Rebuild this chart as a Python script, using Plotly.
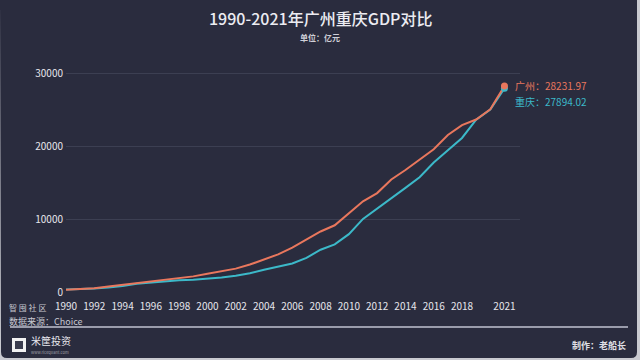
import plotly.graph_objects as go

years = list(range(1990, 2022))
guangzhou = [319.6, 386.7, 510.7, 744.3, 985.3, 1259.2, 1468.1, 1678.1, 1893.5, 2139.2,
             2492.7, 2841.7, 3203.9, 3758.6, 4450.6, 5154.2, 6081.9, 7140.3, 8287.4, 9138.2,
             10748.3, 12423.4, 13551.2, 15420.1, 16706.9, 18100.4, 19547.4, 21503.2, 22859.4,
             23628.6, 25019.1, 28231.97]
chongqing = [328, 380, 465, 609, 804, 1123, 1315, 1510, 1602, 1663,
             1791, 1977, 2233, 2556, 3035, 3468, 3907, 4676, 5794, 6530,
             7926, 10011, 11410, 12783, 14263, 15717, 17741, 19425, 21100,
             23606, 25003, 27894.02]
tick_years = [1990, 1992, 1994, 1996, 1998, 2000, 2002, 2004, 2006, 2008, 2010,
              2012, 2014, 2016, 2018, 2021]
y_ticks = [0, 10000, 20000, 30000]

ORANGE = "#e9775d"
TEAL = "#3cb9c9"
BG = "#2a2c3e"
FONT = "Noto Sans CJK SC"

W, H = 640, 360
L, R, T, B = 66, 120, 60, 68
PW, PH = W - L - R, H - T - B


def px(x):
    return (x - L) / PW


def py(y):
    return (H - B - y) / PH


fig = go.Figure()
fig.add_trace(go.Scatter(x=years, y=chongqing, mode="lines", line=dict(color=TEAL, width=2),
                         name="重庆", hoverinfo="x+y"))
fig.add_trace(go.Scatter(x=years, y=guangzhou, mode="lines", line=dict(color=ORANGE, width=2),
                         name="广州", hoverinfo="x+y"))
fig.add_trace(go.Scatter(x=[years[-1]], y=[chongqing[-1]], mode="markers",
                         marker=dict(color=TEAL, size=7), hoverinfo="skip"))
fig.add_trace(go.Scatter(x=[years[-1]], y=[guangzhou[-1]], mode="markers",
                         marker=dict(color=ORANGE, size=7), hoverinfo="skip"))

shapes = [
    dict(type="path", xref="paper", yref="paper", layer="below",
         path=(f"M {px(0)},{py(0)} L {px(637)},{py(0)} L {px(637)},{py(352)} "
               f"Q {px(637)},{py(358)} {px(631)},{py(358)} L {px(7)},{py(358)} "
               f"Q {px(1)},{py(358)} {px(1)},{py(352)} Z"),
         fillcolor=BG, line=dict(width=0)),
    dict(type="line", xref="paper", yref="paper", x0=px(10), x1=px(628), y0=py(327), y1=py(327),
         line=dict(color="#9a9cab", width=2)),
    dict(type="rect", xref="paper", yref="paper", x0=px(12), x1=px(26), y0=py(338), y1=py(352),
         fillcolor="#f2f2f2", line=dict(width=0)),
    dict(type="rect", xref="paper", yref="paper", x0=px(15), x1=px(23), y0=py(341), y1=py(349),
         fillcolor="#3a3c4e", line=dict(width=0)),
]

annotations = [
    dict(text="1990-2021年广州重庆GDP对比", x=px(320), y=py(18), xref="paper", yref="paper",
         showarrow=False, font=dict(size=16, color="#ececf2", family=FONT, weight=500),
         xanchor="center", yanchor="middle"),
    dict(text="单位：亿元", x=px(320), y=py(37), xref="paper", yref="paper",
         showarrow=False, font=dict(size=8, color="#d0d0d8", family=FONT, weight=600),
         xanchor="center", yanchor="middle"),
    dict(text="广州：28231.97", x=px(513), y=py(86), xref="paper", yref="paper",
         showarrow=False, font=dict(size=10, color=ORANGE, family=FONT), xanchor="left", yanchor="middle"),
    dict(text="重庆：27894.02", x=px(513), y=py(101), xref="paper", yref="paper",
         showarrow=False, font=dict(size=10, color=TEAL, family=FONT), xanchor="left", yanchor="middle"),
    dict(text="智 囤 社 区", x=px(7), y=py(307), xref="paper", yref="paper",
         showarrow=False, font=dict(size=8, color="#c8c8d0", family=FONT), xanchor="left", yanchor="middle"),
    dict(text="数据来源：Choice", x=px(7), y=py(321), xref="paper", yref="paper",
         showarrow=False, font=dict(size=9, color="#c8c8d0", family=FONT), xanchor="left", yanchor="middle"),
    dict(text="米筐投资", x=px(29), y=py(340), xref="paper", yref="paper",
         showarrow=False, font=dict(size=10, color="#e8e8ee", family=FONT), xanchor="left", yanchor="middle"),
    dict(text="www.ricequant.com", x=px(29), y=py(352), xref="paper", yref="paper",
         showarrow=False, font=dict(size=4, color="#a0a0a8", family=FONT), xanchor="left", yanchor="middle"),
    dict(text="制作：老船长", x=px(628), y=py(345), xref="paper", yref="paper",
         showarrow=False, font=dict(size=9, color="#e0e0e6", family=FONT, weight=600),
         xanchor="right", yanchor="middle"),
]

fig.update_layout(
    width=W, height=H,
    margin=dict(l=L, r=R, t=T, b=B),
    paper_bgcolor="#c9cad0",
    plot_bgcolor="rgba(0,0,0,0)",
    showlegend=False,
    shapes=shapes,
    annotations=annotations,
    font=dict(family=FONT, color="#e6e6ec", size=10),
    xaxis=dict(range=[1990, 2022.1], tickmode="array", tickvals=tick_years,
               ticktext=[str(y) for y in tick_years], showgrid=False, zeroline=False,
               showline=False, ticks="", tickfont=dict(size=10, color="#e6e6ec"), ticklabelstandoff=7),
    yaxis=dict(range=[0, PH / 73 * 10000], tickmode="array", tickvals=y_ticks,
               ticktext=[str(v) for v in y_ticks],
               showgrid=True, gridcolor="#3c3f52", gridwidth=1, zeroline=False, showline=False,
               ticks="", tickfont=dict(size=10, color="#e6e6ec"), ticklabelstandoff=2),
)

fig.write_html("out.html", config={"displayModeBar": False},
               post_script="document.body.style.margin='0';document.body.style.overflow='hidden';")
